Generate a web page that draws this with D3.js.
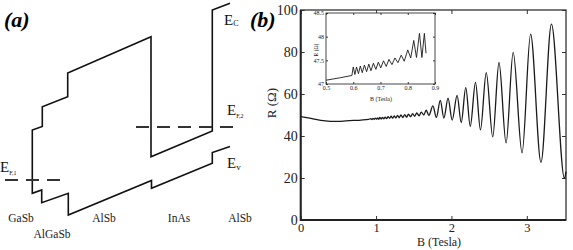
<!DOCTYPE html>
<html>
<head>
<meta charset="utf-8">
<script src="https://cdn.jsdelivr.net/npm/d3@7"></script>
<style>
  body { margin: 0; background: #fff; }
  svg { display: block; }
  svg text { font-family: "Liberation Serif", "Times New Roman", serif !important; }
</style>
</head>
<body>
<script>
// ---- panel (a): band diagram, position / energy in diagram units
var bandPos = [230, 212.3, 212.3, 151, 151, 67.7, 67.7, 42.3, 42.3, 32.3, 32.3, 41.7, 41.7, 68.3, 68.3, 151.5, 151.5, 212.3, 212.3, 230];
var bandE   = [216.7, 210, 89, 63.3, 183.3, 147, 123.3, 113.3, 93.5, 90, 26.7, 30, 17.3, 26.7, 5, 39.5, 31.7, 56.7, 67.5, 73.5];
var fermiE    = [40, 93];
var fermiFrom = [5, 136];
var fermiTo   = [63, 238];
var layerNames = ["GaSb", "AlGaSb", "AlSb", "InAs", "AlSb"];
var layerCenters = [21, 52, 104, 179, 240];

// ---- panel (b): R vs B
var fieldB = [0, 0.1, 0.2, 0.3, 0.4, 0.5, 0.6, 0.7, 0.8, 0.9,
  0.93, 0.945, 0.96, 0.975, 0.99, 1.005, 1.02, 1.035, 1.05, 1.067, 1.085, 1.103, 1.12, 1.14,
  1.16, 1.18, 1.2, 1.22, 1.24, 1.262, 1.285, 1.308, 1.33, 1.355, 1.38, 1.405, 1.43, 1.457,
  1.485, 1.513, 1.54, 1.57, 1.6, 1.633, 1.665, 1.7, 1.754, 1.8, 1.852, 1.9, 1.955, 2.01,
  2.075, 2.13, 2.19, 2.25, 2.319, 2.385, 2.462, 2.548, 2.631, 2.725, 2.819, 2.937, 3.05,
  3.188, 3.327, 3.5, 3.52];
var resistance = [49.2, 48.6, 47.9, 47.3, 47.0, 47.0, 47.2, 47.4, 47.6, 47.9,
  48.3, 47.8, 48.4, 47.9, 48.5, 48.0, 48.6, 48.0, 48.8, 48.1, 48.9, 48.2, 49.0, 48.3,
  49.2, 48.4, 49.4, 48.5, 49.6, 48.6, 49.8, 48.7, 50.0, 48.8, 50.2, 49.0, 50.4, 49.2,
  50.6, 49.4, 51.0, 49.6, 51.4, 50.0, 52.3, 49.8, 54.3, 48.8, 57.0, 48.5, 58.0, 47.6,
  59.3, 46.4, 63.0, 44.6, 65.5, 42.9, 70.2, 39.6, 75.0, 36.7, 79.8, 32.0, 88.5,
  27.5, 93.3, 19.8, 23];
var mainXTicks = [0, 1, 2, 3];
var mainYTicks = [0, 20, 40, 60, 80, 100];

// inset: low field detail
var insetB = [0.5, 0.55, 0.595, 0.6, 0.606, 0.612, 0.619, 0.626, 0.633, 0.641, 0.649, 0.657,
  0.665, 0.674, 0.683, 0.692, 0.701, 0.711, 0.721, 0.731, 0.742, 0.753, 0.764, 0.776,
  0.787, 0.8, 0.811, 0.822, 0.832, 0.843, 0.852, 0.861, 0.867];
var insetR = [47.08, 47.13, 47.18, 47.36, 47.2, 47.36, 47.22, 47.38, 47.24, 47.40, 47.26, 47.42,
  47.28, 47.44, 47.31, 47.46, 47.34, 47.49, 47.37, 47.52, 47.41, 47.55, 47.45, 47.61,
  47.48, 47.72, 47.55, 47.92, 47.56, 48.07, 47.56, 48.07, 47.65];
var insetXTicks = [0.5, 0.6, 0.7, 0.8, 0.9];
var insetYTicks = [47, 47.5, 48, 48.5];

var svg = d3.select("body").append("svg")
  .attr("width", 573)
  .attr("height", 250);

// ================= panel (a)
var xA = d3.scaleLinear().domain([0, 240]).range([0, 240]);
var eA = d3.scaleLinear().domain([0, 220]).range([220, 0]);

var band = d3.line()
  .x(function(d) { return xA(d[0]); })
  .y(function(d) { return eA(d[1]); });

svg.append("path")
  .datum(d3.zip(bandPos, bandE))
  .attr("d", band)
  .attr("fill", "none")
  .attr("stroke", "#111")
  .attr("stroke-width", 1.6)
  .attr("stroke-linejoin", "miter");

svg.selectAll(".fermi")
  .data(fermiE)
  .enter().append("line")
  .attr("class", "fermi")
  .attr("x1", function(d, i) { return xA(fermiFrom[i]); })
  .attr("x2", function(d, i) { return xA(fermiTo[i]); })
  .attr("y1", function(d) { return eA(d); })
  .attr("y2", function(d) { return eA(d); })
  .attr("stroke", "#333")
  .attr("stroke-width", 2)
  .attr("stroke-dasharray", "13,8");

svg.selectAll(".layer")
  .data(layerNames)
  .enter().append("text")
  .attr("class", "layer")
  .attr("x", function(d, i) { return xA(layerCenters[i]); })
  .attr("y", function(d, i) { return i == 1 ? 238 : 222; })
  .attr("text-anchor", "middle")
  .attr("font-size", "11.5px")
  .attr("fill", "#222")
  .text(function(d) { return d; });

// energy labels
function energyLabel(x, y, sub, subSize, subDy) {
  var t = svg.append("text").attr("x", x).attr("y", y)
    .attr("font-size", "15px").attr("fill", "#111");
  t.append("tspan").text("E");
  t.append("tspan").attr("font-size", subSize).attr("dy", subDy).text(sub);
}
energyLabel(224, 25, "C", "8px", 1);
energyLabel(227, 115, "F,2", "6px", 3);
energyLabel(227, 168, "v", "9px", 2);
energyLabel(0, 172, "F,1", "6px", 3);

svg.append("text").attr("x", 4).attr("y", 27)
  .attr("font-size", "22px").attr("font-weight", "bold").attr("font-style", "italic")
  .text("(a)");
svg.append("text").attr("x", 250).attr("y", 27)
  .attr("font-size", "22px").attr("font-weight", "bold").attr("font-style", "italic")
  .text("(b)");

// ================= panel (b)
var x = d3.scaleLinear().domain([0, 3.52]).range([300.7, 566]);
var y = d3.scaleLinear().domain([0, 100]).range([220, 10]);

function styleAxis(g, size) {
  g.select(".domain").remove();
  g.attr("font-family", null);
  g.selectAll("line").attr("stroke", "#333");
  g.selectAll("text").attr("font-size", size).attr("fill", "#222");
}

svg.append("g").attr("transform", "translate(0,220)")
  .call(d3.axisBottom(x).tickValues(mainXTicks).tickSizeInner(-4).tickSizeOuter(0).tickPadding(3).tickFormat(d3.format("d")))
  .call(styleAxis, "12.5px");
svg.append("g").attr("transform", "translate(0,10)")
  .call(d3.axisTop(x).tickValues(mainXTicks).tickSizeInner(-4).tickSizeOuter(0).tickFormat(""))
  .call(styleAxis, "13px");
svg.append("g").attr("transform", "translate(300.7,0)")
  .call(d3.axisLeft(y).tickValues(mainYTicks).tickSizeInner(-4).tickSizeOuter(0).tickPadding(3).tickFormat(d3.format("d")))
  .call(styleAxis, "14px");
svg.append("g").attr("transform", "translate(566,0)")
  .call(d3.axisRight(y).tickValues(mainYTicks).tickSizeInner(-4).tickSizeOuter(0).tickFormat(""))
  .call(styleAxis, "14px");

// frame
svg.append("rect")
  .attr("x", x(0)).attr("y", y(100))
  .attr("width", x(3.52) - x(0)).attr("height", y(0) - y(100))
  .attr("fill", "none").attr("stroke", "#333").attr("stroke-width", 1.3);
svg.append("path")
  .attr("d", "M" + x(0) + "," + y(100) + "V" + y(0) + "H" + x(3.52))
  .attr("fill", "none").attr("stroke", "#222").attr("stroke-width", 2);

var rLine = d3.line()
  .x(function(d) { return x(d[0]); })
  .y(function(d) { return y(d[1]); })
  .curve(d3.curveMonotoneX);

svg.append("path")
  .datum(d3.zip(fieldB, resistance))
  .attr("d", rLine)
  .attr("fill", "none")
  .attr("stroke", "#1a1a1a")
  .attr("stroke-width", 1.3);

svg.append("text")
  .attr("transform", "translate(276,103) rotate(-90)")
  .attr("text-anchor", "middle")
  .attr("font-size", "13px")
  .attr("fill", "#222")
  .text("R (Ω)");
svg.append("text")
  .attr("x", 439).attr("y", 246)
  .attr("text-anchor", "middle")
  .attr("font-size", "12px")
  .attr("fill", "#222")
  .text("B (Tesla)");

// ---- inset
var xi = d3.scaleLinear().domain([0.5, 0.9]).range([326, 435]);
var yi = d3.scaleLinear().domain([47, 48.5]).range([84, 13]);

svg.append("rect")
  .attr("x", xi(0.5)).attr("y", yi(48.5))
  .attr("width", xi(0.9) - xi(0.5)).attr("height", yi(47) - yi(48.5))
  .attr("fill", "#fff").attr("stroke", "#333").attr("stroke-width", 0.9);

svg.append("g").attr("transform", "translate(0," + yi(47) + ")")
  .call(d3.axisBottom(xi).tickValues(insetXTicks).tickSizeInner(-2).tickSizeOuter(0).tickPadding(2).tickFormat(d3.format(".1f")))
  .call(styleAxis, "6px");
svg.append("g").attr("transform", "translate(0," + yi(48.5) + ")")
  .call(d3.axisTop(xi).tickValues(insetXTicks).tickSizeInner(-2).tickSizeOuter(0).tickFormat(""))
  .call(styleAxis, "6px");
svg.append("g").attr("transform", "translate(" + xi(0.5) + ",0)")
  .call(d3.axisLeft(yi).tickValues(insetYTicks).tickSizeInner(-2).tickSizeOuter(0).tickPadding(2).tickFormat(d3.format("")))
  .call(styleAxis, "6px");
svg.append("g").attr("transform", "translate(" + xi(0.9) + ",0)")
  .call(d3.axisRight(yi).tickValues(insetYTicks).tickSizeInner(-2).tickSizeOuter(0).tickFormat(""))
  .call(styleAxis, "6px");

var iLine = d3.line()
  .x(function(d) { return xi(d[0]); })
  .y(function(d) { return yi(d[1]); });

svg.append("path")
  .datum(d3.zip(insetB, insetR))
  .attr("d", iLine)
  .attr("fill", "none")
  .attr("stroke", "#1a1a1a")
  .attr("stroke-width", 0.9);

svg.append("text")
  .attr("transform", "translate(318,50) rotate(-90)")
  .attr("text-anchor", "middle")
  .attr("font-size", "5.5px")
  .attr("fill", "#222")
  .text("R (Ω)");
svg.append("text")
  .attr("x", 381).attr("y", 101)
  .attr("text-anchor", "middle")
  .attr("font-size", "6px")
  .attr("fill", "#222")
  .text("B (Tesla)");
</script>
</body>
</html>
